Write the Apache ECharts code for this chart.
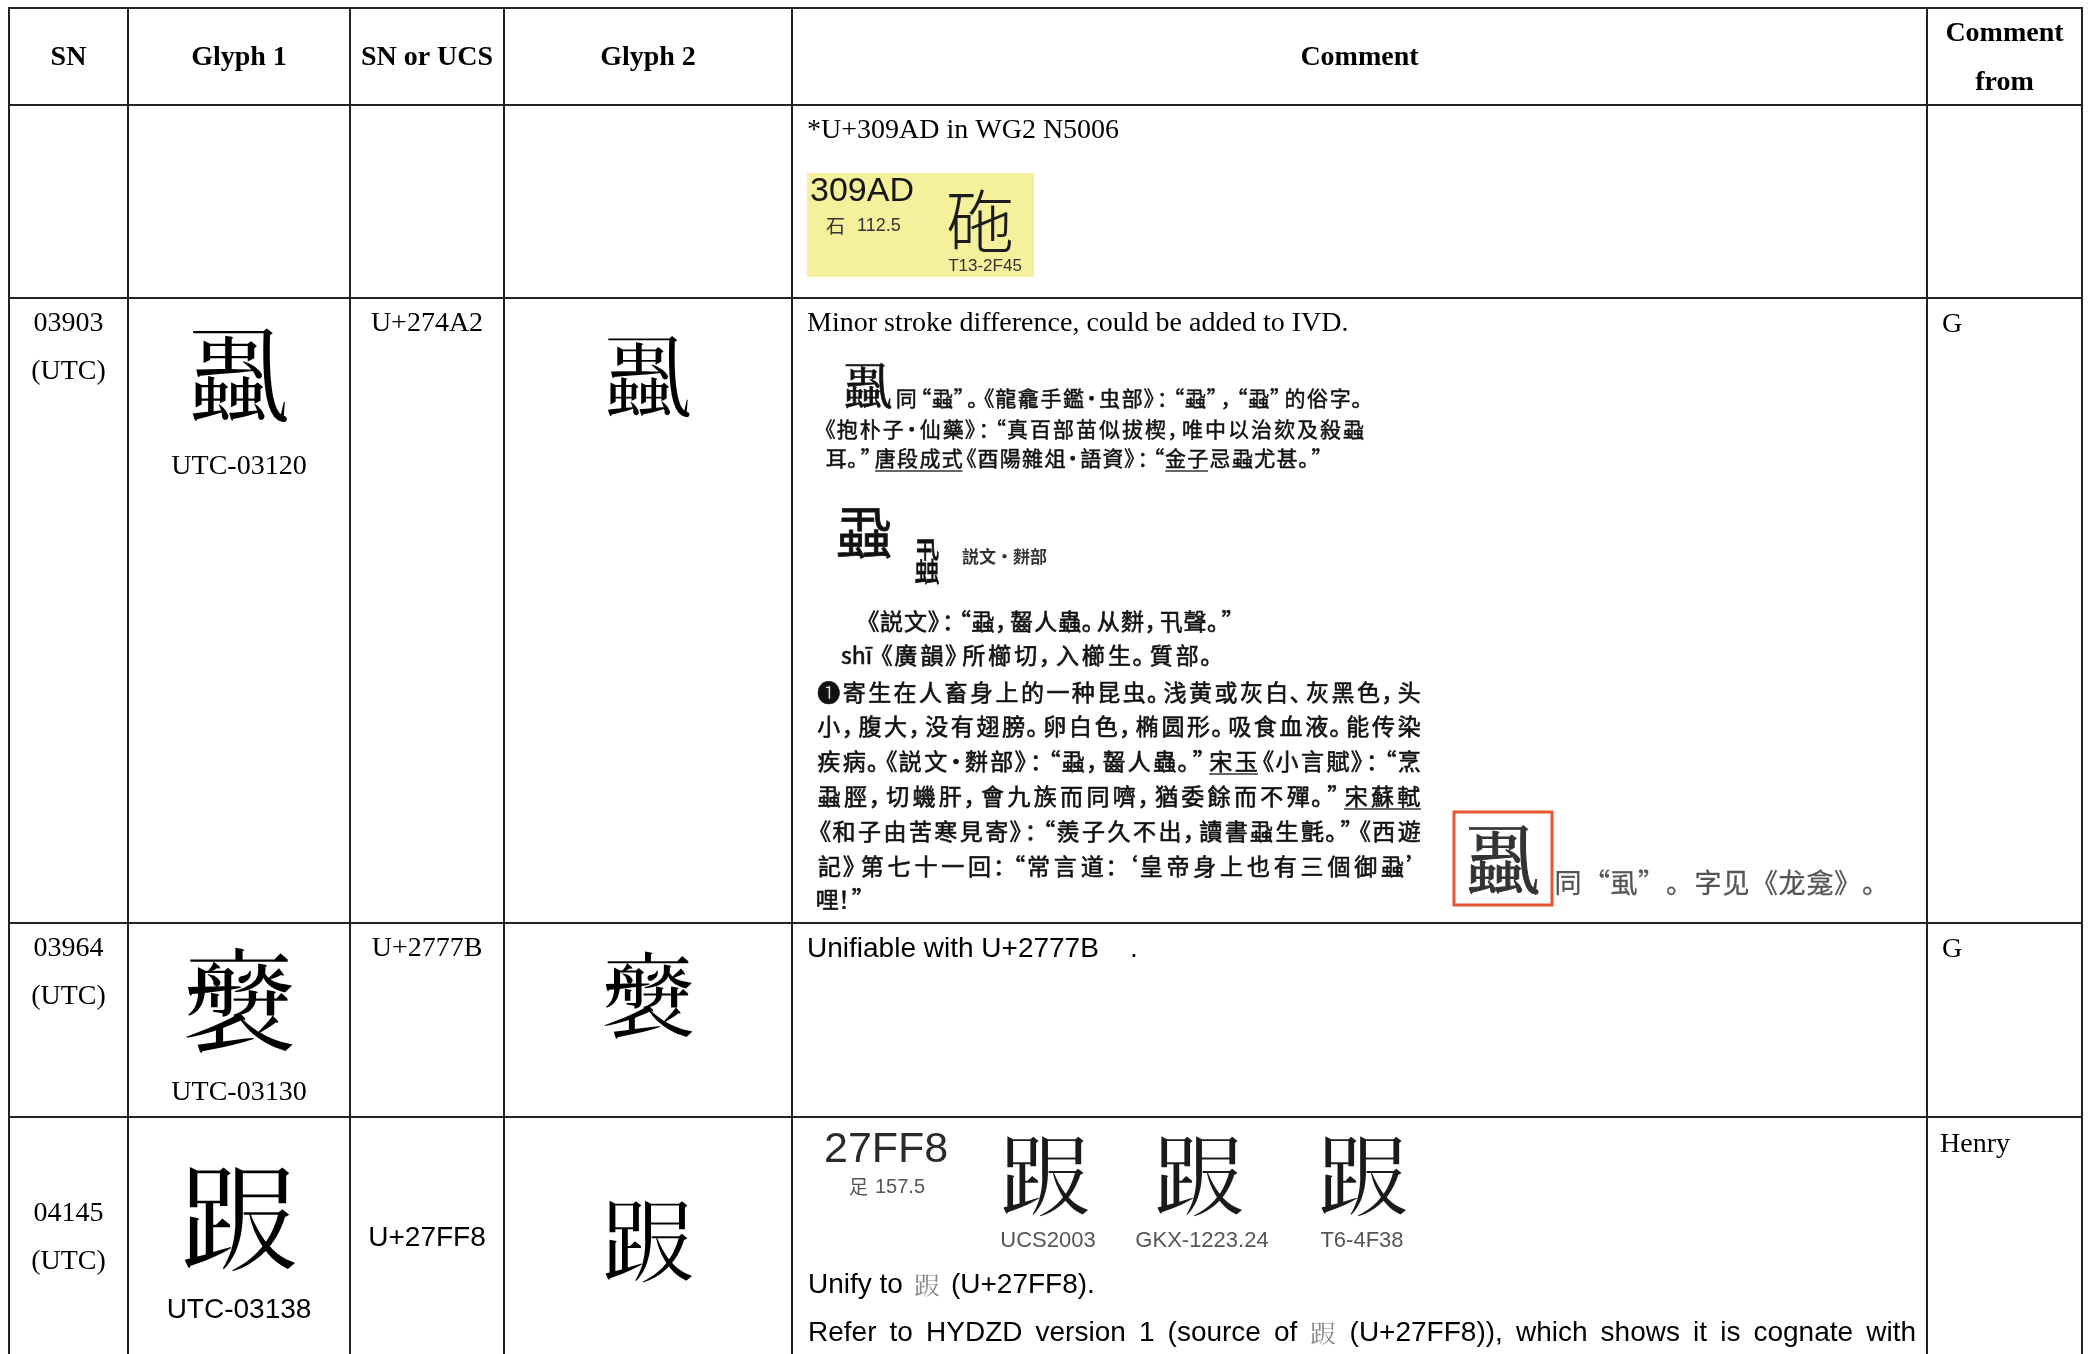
<!DOCTYPE html>
<html><head><meta charset="utf-8">
<script src="https://cdn.jsdelivr.net/npm/echarts@6/dist/echarts.min.js"></script>
<style>html,body{margin:0;padding:0;background:#fff}#c{width:2091px;height:1354px}</style>
</head><body><div id="c"></div><script>
// ---------------- data ----------------
const headers = ['SN', 'Glyph 1', 'SN or UCS', 'Glyph 2', 'Comment', 'Comment\nfrom'];
const snValues = ['', '03903\n(UTC)', '03964\n(UTC)', '04145\n(UTC)'];
const glyph1Chars = ['', '\u{274A2}', '\u{2777B}', '\u{27FF8}'];
const glyph1Ids = ['', 'UTC-03120', 'UTC-03130', 'UTC-03138'];
const ucsValues = ['', 'U+274A2', 'U+2777B', 'U+27FF8'];
const glyph2Chars = ['', '\u{274A2}', '\u{2777B}', '\u{27FF8}'];
const commentFrom = ['', 'G', 'G', 'Henry'];
const commentLead = ['*U+309AD in WG2 N5006', 'Minor stroke difference, could be added to IVD.', 'Unifiable with U+2777B    .', ''];
// evidence card, row 1
const card1 = ['309AD', '石', '112.5', '\u{309AD}', 'T13-2F45'];
// dictionary excerpt, row 2
const dictAHead = '\u{274A2}';
const dictALines = ['同“蝨”。《龍龕手鑑·虫部》：“蝨”，“蝨”的俗字。',
  '《抱朴子·仙藥》：“真百部苗似拔楔，唯中以治欬及殺蝨',
  '耳。”唐段成式《酉陽雜俎·語資》：“金子忌蝨尤甚。”'];
const dictAUnder = [[], [], ['唐段成式', '金子']];
const dictBHead = '蝨';
const dictBSource = '説文·\u{4D35}部';
const dictBLines = ['《説文》：“蝨，齧人蟲。从\u{4D35}，卂聲。”',
  'shī 《廣韻》所櫛切，入櫛生。質部。',
  '❶寄生在人畜身上的一种昆虫。浅黄或灰白、灰黑色，头',
  '小，腹大，没有翅膀。卵白色，椭圆形。吸食血液。能传染',
  '疾病。《説文·\u{4D35}部》：“蝨，齧人蟲。”宋玉《小言賦》：“烹',
  '蝨脛，切蟣肝，會九族而同嚌，猶委餘而不殫。”宋蘇軾',
  '《和子由苦寒見寄》：“羨子久不出，讀書蝨生氈。”《西遊',
  '記》第七十一回：“常言道：‘皇帝身上也有三個御蝨’',
  '哩！”'];
const dictBUnder = [[], [], [], [], ['宋玉'], ['宋蘇軾'], [], [], []];
const dictCHead = '\u{274A2}';
const dictCText = '同“虱”。字见《龙龛》。';
// evidence card, row 4
const card4Code = ['27FF8', '足', '157.5'];
const card4Glyph = '\u{27FF8}';
const card4Sources = ['UCS2003', 'GKX-1223.24', 'T6-4F38'];
const unifyText = ['Unify to ', '\u{27FF8}', ' (U+27FF8).'];
const referText = 'Refer to HYDZD version 1 (source of \u{27FF8} (U+27FF8)), which shows it is cognate with';

// ---------------- layout (not data) ----------------
const colEdges = [9, 128, 350, 504, 792, 1927, 2082];
const rowEdges = [8, 105, 298, 923, 1117, 1420];

const SERIF = '"Liberation Serif", "Times New Roman", serif';
const SANS = '"Liberation Sans", Arial, sans-serif';
const CJK = '"Noto Sans CJK TC", "Noto Sans CJK SC", "Noto Sans CJK JP", "Noto Sans CJK KR", sans-serif';
const CJKSC = '"Noto Sans CJK SC", "Noto Sans CJK TC", "Noto Sans CJK JP", sans-serif';

// glyph availability check (fallback to visually close unified ideographs)
const probe = document.createElement('canvas'); probe.width = 80; probe.height = 80;
const pg = probe.getContext('2d', {willReadFrequently: true});
function inkOf(ch) {
  pg.clearRect(0, 0, 80, 80); pg.font = '56px ' + CJK; pg.textBaseline = 'top'; pg.fillStyle = '#000';
  pg.fillText(ch, 8, 8); return pg.getImageData(0, 0, 80, 80).data;
}
function hasGlyph(ch) {
  const a = inkOf(ch), b = inkOf('\u{10FFFD}');
  let ink = 0, diff = 0;
  for (let i = 3; i < a.length; i += 4) { if (a[i] > 40) ink++; if (a[i] !== b[i]) diff++; }
  return ink > 0 && diff > 0;
}
const fallbackMap = {'\u{274A2}': '蝨', '\u{2777B}': '褒', '\u{27FF8}': '跟', '\u{309AD}': '砤', '\u{4D35}': '蚰'};
const glyphCache = {};
function G(str) {
  return Array.from(str).map(ch => {
    if (!fallbackMap[ch]) return ch;
    if (glyphCache[ch] === undefined) glyphCache[ch] = hasGlyph(ch) ? ch : fallbackMap[ch];
    return glyphCache[ch];
  }).join('');
}

const mctx = document.createElement('canvas').getContext('2d');
function measure(text, font) { mctx.font = font; return mctx.measureText(text).width; }

function txt(dx, dy, text, font, fill, align, sx, bold) {
  const st = {text: text, font: font, fill: fill || '#000', align: align || 'left', textAlign: align || 'left',
    verticalAlign: 'middle', textVerticalAlign: 'middle'};
  if (bold) { st.stroke = fill || '#000'; st.lineWidth = bold; }
  return {type: 'text', x: dx, y: dy, scaleX: sx || 1, scaleY: 1, style: st};
}
function line(x1, y1, x2, y2, stroke, lw) {
  return {type: 'line', shape: {x1: x1, y1: y1, x2: x2, y2: y2}, style: {stroke: stroke, lineWidth: lw}};
}
function rect(x, y, w, h, fill, stroke, lw) {
  return {type: 'rect', shape: {x: x, y: y, width: w, height: h}, style: {fill: fill, stroke: stroke || null, lineWidth: lw || 0}};
}
// CJK line with compressed punctuation, spread over a given width
const OPEN = '“‘《（「『〈';
const CLOSE = '”’》）」』〉，。、：；！？';
const MID = '·';
function cjkLine(dx, dy, text, fs, width, fill, unders, ulOff, pr, bold) {
  const font = fs + 'px ' + CJKSC;
  const chars = Array.from(text);
  let nI = 0, nP = 0, latin = 0;
  const kinds = chars.map(ch => {
    if (OPEN.includes(ch) || CLOSE.includes(ch) || MID.includes(ch)) { nP++; return 'p'; }
    if (/[\x00-\x7f\u0100-\u024f]/.test(ch)) { latin += measure(ch, font); return 'l'; }
    nI++; return 'i';
  });
  const a = (width - latin) / (nI + pr * nP);
  const out = []; const xs = []; let x = dx;
  chars.forEach((ch, k) => {
    const kind = kinds[k];
    const adv = kind === 'i' ? a : kind === 'p' ? a * pr : measure(ch, font);
    xs.push(x);
    if (kind === 'i' || MID.includes(ch)) out.push(txt(x + adv / 2, dy, ch, font, fill, 'center', 1, bold));
    else if (kind === 'l') out.push(txt(x, dy, ch, font, fill, 'left', 1, bold));
    else if (OPEN.includes(ch)) out.push(txt(x + adv, dy, ch, font, fill, 'right', 1, bold));
    else out.push(txt(x, dy, ch, font, fill, 'left', 1, bold));
    x += adv;
  });
  xs.push(x);
  (unders || []).forEach(u => {
    const uc = Array.from(u);
    const idx = chars.findIndex((c, k) => chars.slice(k, k + uc.length).join('') === u);
    if (idx < 0) return;
    out.push(line(xs[idx] + 1, dy + ulOff, xs[idx + uc.length] - 1, dy + ulOff, '#333', 1.6));
  });
  return out;
}
function runs(dx, dy, parts, width, gapFixed) {
  const ws = parts.map(p => measure(p.t, p.font));
  const total = ws.reduce((a, b) => a + b, 0);
  const gap = width ? (width - total) / (parts.length - 1) : (gapFixed || 0);
  let x = dx; const out = [];
  parts.forEach((p, i) => { out.push(txt(x, dy, p.t, p.font, p.fill, 'left')); x += ws[i] + gap; });
  return out;
}

const F_HEAD = 'bold 28px ' + SERIF;
const F_SERIF = '28px ' + SERIF;
const F_SANS = '28px ' + SANS;

function commentCell(i) {
  const out = [];
  if (i === 0) {
    out.push(txt(15, 26, commentLead[0], F_SERIF));
    out.push(rect(15, 68, 227, 104, '#f4f09c'));
    out.push(txt(18, 87, card1[0], '34px ' + SANS, '#161616'));
    out.push(txt(34, 121, card1[1], '19px ' + CJK, '#333'));
    out.push(txt(65, 121, card1[2], '18px ' + SANS, '#333'));
    out.push(txt(188, 116, G(card1[3]), '300 68px ' + CJK, '#1c1c1c', 'center'));
    out.push(txt(193, 161, card1[4], '17px ' + SANS, '#333', 'center'));
  } else if (i === 1) {
    out.push(txt(15, 26, commentLead[1], F_SERIF));
    out.push(txt(76, 88, G(dictAHead), '50px ' + CJKSC, '#111', 'center', 1, 0.8));
    const aPos = [[103, 100, 470], [30, 131, 543], [33, 160, 500]];
    dictALines.forEach((t, k) => out.push(...cjkLine(aPos[k][0], aPos[k][1], G(t), 21, aPos[k][2], '#111', dictAUnder[k], 13, 0.6, 0.5)));
    out.push(txt(72, 234, G(dictBHead), '56px ' + CJKSC, '#111', 'center', 1, 0.8));
    out.push(txt(135, 263, G(dictBHead), '50px ' + CJKSC, '#111', 'center', 0.5, 0.8));
    out.push(txt(170, 259, G(dictBSource), 'bold 17px ' + CJKSC, '#333'));
    const bPos = [[73, 323, 371], [49, 357, 375], [24, 394, 606], [24, 428, 606], [24, 463, 606],
      [24, 498, 606], [24, 533, 606], [24, 568, 606], [24, 601, 49]];
    dictBLines.forEach((t, k) => out.push(...cjkLine(bPos[k][0], bPos[k][1], G(t), 23, bPos[k][2], '#111', dictBUnder[k], 13, 0.6, 0.6)));
    out.push(rect(662, 514, 98, 93, '#fff', '#e4572e', 3));
    out.push(txt(711, 562, G(dictCHead), '76px ' + CJKSC, '#333', 'center', 1, 1));
    out.push(...cjkLine(762, 585, dictCText, 27, 336, '#555', [], 0, 1, 0.3));
  } else if (i === 2) {
    out.push(txt(15, 26, commentLead[2], F_SANS));
  } else if (i === 3) {
    out.push(txt(32, 33, card4Code[0], '43px ' + SANS, '#2a2a2a'));
    out.push(txt(57, 70, card4Code[1], '19px ' + CJK, '#555'));
    out.push(txt(83, 70, card4Code[2], '20px ' + SANS, '#555'));
    const gx = [253, 407, 571], lx = [256, 410, 570];
    card4Sources.forEach((s, k) => {
      out.push(txt(gx[k], 58, G(card4Glyph), '92px ' + CJK, '#1a1a1a', 'center'));
      out.push(txt(lx[k], 124, s, '22px ' + SANS, '#555', 'center'));
    });
    out.push(...runs(16, 168, [
      {t: unifyText[0].trim(), font: F_SANS, fill: '#000'},
      {t: G(unifyText[1]), font: '26px ' + CJK, fill: '#888'},
      {t: unifyText[2].trim(), font: F_SANS, fill: '#000'}], 0, 11));
    const words = referText.split(' ').map(w => /[\u{20000}-\u{3FFFF}]/u.test(w)
      ? {t: G(w), font: '26px ' + CJK, fill: '#888'} : {t: w, font: F_SANS, fill: '#000'});
    out.push(...runs(16, 216, words, 1108));
  }
  return out;
}

const rowLayout = [
  null,
  {sn: [26, 74], g1: [77, 104], id: 169, idFont: F_SERIF, ucs: 26, ucsFont: F_SERIF, g2: [79, 90], from: 27},
  {sn: [26, 74], g1: [78, 116], id: 170, idFont: F_SERIF, ucs: 26, ucsFont: F_SERIF, g2: [73, 96], from: 27},
  {sn: [97, 145], g1: [100, 120], id: 193, idFont: F_SANS, ucs: 121, ucsFont: F_SANS, g2: [123, 94], from: 28}
];

function cellContent(r, c, w) {
  if (r === 0) {
    if (c === 5) {
      const p = headers[5].split('\n');
      return [txt(w / 2, 26, p[0], F_HEAD, '#000', 'center'), txt(w / 2, 75, p[1], F_HEAD, '#000', 'center')];
    }
    return [txt(w / 2, 50, headers[c], F_HEAD, '#000', 'center')];
  }
  const i = r - 1; const L = rowLayout[i];
  if (c === 4) return commentCell(i);
  if (!L) return [];
  if (c === 0) { const p = snValues[i].split('\n'); return [txt(w / 2, L.sn[0], p[0], F_SERIF, '#000', 'center'), txt(w / 2, L.sn[1], p[1], F_SERIF, '#000', 'center')]; }
  if (c === 1) return [txt(w / 2, L.g1[0], G(glyph1Chars[i]), L.g1[1] + 'px ' + CJK, '#000', 'center'), txt(w / 2, L.id, glyph1Ids[i], L.idFont, '#000', 'center')];
  if (c === 2) return [txt(w / 2, L.ucs, ucsValues[i], L.ucsFont, '#000', 'center')];
  if (c === 3) return [txt(w / 2, L.g2[0], G(glyph2Chars[i]), L.g2[1] + 'px ' + CJK, '#000', 'center')];
  if (c === 5) return [txt(i === 3 ? 13 : 15, L.from, commentFrom[i], F_SERIF)];
  return [];
}

const cells = [];
for (let r = 0; r < rowEdges.length - 1; r++) for (let c = 0; c < colEdges.length - 1; c++) cells.push([c, r]);

function renderItem(params, api) {
  const c = api.value(0), r = api.value(1);
  const p0 = api.coord([colEdges[c], rowEdges[r]]);
  const p1 = api.coord([colEdges[c + 1], rowEdges[r + 1]]);
  const w = p1[0] - p0[0], h = p1[1] - p0[1];
  const kids = cellContent(r, c, w).map(el => {
    if (el.type === 'text') { el.x += p0[0]; el.y += p0[1]; }
    else if (el.type === 'line') { el.shape.x1 += p0[0]; el.shape.x2 += p0[0]; el.shape.y1 += p0[1]; el.shape.y2 += p0[1]; }
    else if (el.type === 'rect') { el.shape.x += p0[0]; el.shape.y += p0[1]; }
    return el;
  });
  kids.push({type: 'rect', shape: {x: p0[0], y: p0[1], width: w, height: h}, style: {fill: null, stroke: '#222', lineWidth: 2}});
  return {type: 'group', children: kids};
}

const chart = echarts.init(document.getElementById('c'), null, {renderer: 'canvas', width: 2091, height: 1354});
chart.setOption({
  animation: false,
  backgroundColor: '#fff',
  grid: {left: 0, right: 0, top: 0, bottom: 0},
  xAxis: {type: 'value', min: 0, max: 2091, show: false},
  yAxis: {type: 'value', min: 0, max: 1354, inverse: true, show: false},
  series: [{type: 'custom', coordinateSystem: 'cartesian2d', renderItem: renderItem, data: cells, clip: false, silent: true}]
});
</script></body></html>
